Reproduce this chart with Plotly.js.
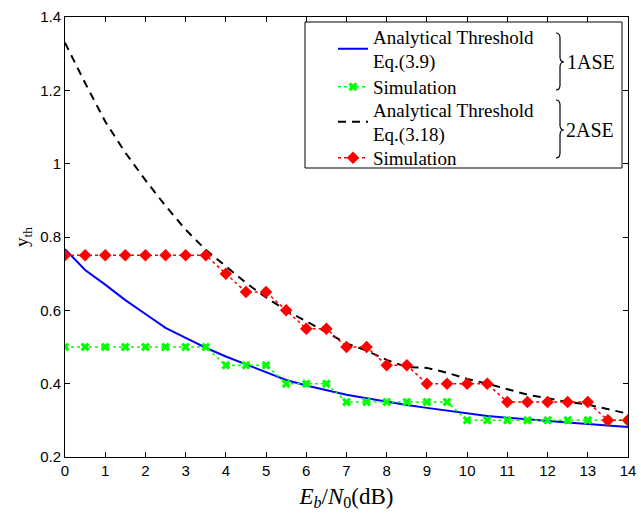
<!DOCTYPE html>
<html>
<head>
<meta charset="utf-8">
<script src="https://cdn.plot.ly/plotly-3.0.1.min.js"></script>
<style>html,body{margin:0;padding:0;background:#fff;}#chart{width:641px;height:517px;}</style>
</head>
<body>
<div id="chart"></div>
<script>
// ---- data ----
const snr = [0,0.5,1,1.5,2,2.5,3,3.5,4,4.5,5,5.5,6,6.5,7,7.5,8,8.5,9,9.5,10,10.5,11,11.5,12,12.5,13,13.5,14];
const analytic1 = [0.767,0.71,0.67,0.628,0.59,0.552,0.525,0.498,0.474,0.452,0.43,0.41,0.395,0.382,0.37,0.36,0.35,0.342,0.334,0.326,0.318,0.312,0.307,0.302,0.298,0.294,0.29,0.286,0.282];
const sim1 = [0.5,0.5,0.5,0.5,0.5,0.5,0.5,0.5,0.45,0.45,0.45,0.4,0.4,0.4,0.35,0.35,0.35,0.35,0.35,0.35,0.3,0.3,0.3,0.3,0.3,0.3,0.3,0.3,0.3];
const analytic2 = [1.33,1.22,1.115,1.03,0.955,0.885,0.82,0.765,0.72,0.675,0.635,0.6,0.57,0.54,0.51,0.49,0.465,0.445,0.443,0.43,0.413,0.4,0.385,0.37,0.36,0.35,0.343,0.33,0.318];
const sim2 = [0.75,0.75,0.75,0.75,0.75,0.75,0.75,0.75,0.7,0.65,0.65,0.6,0.55,0.55,0.5,0.5,0.45,0.45,0.4,0.4,0.4,0.4,0.35,0.35,0.35,0.35,0.35,0.3,0.3];
const names = ['Analytical Threshold<br>Eq.(3.9)','Simulation','Analytical Threshold<br>Eq.(3.18)','Simulation'];
const groupLabels = ['1ASE','2ASE'];
const xTicks = [0,1,2,3,4,5,6,7,8,9,10,11,12,13,14];
const yTicks = [0.2,0.4,0.6,0.8,1,1.2,1.4];

// ---- layout helpers ----
const W = 641, H = 517, L = 65, R = 13, T = 17, B = 60;
const pw = W - L - R, ph = H - T - B;
const px = x => (x - L) / pw;
const py = y => (H - B - y) / ph;
function brace(xl, yt, yb, ymid) {
  const xs = xl + 4, xt = xl + 8, r = 5;
  const p = (x, y) => px(x).toFixed(5) + ',' + py(y).toFixed(5);
  return 'M' + p(xl, yt) + ' Q' + p(xs, yt) + ' ' + p(xs, yt + r) +
    ' L' + p(xs, ymid - r) + ' Q' + p(xs, ymid) + ' ' + p(xt, ymid) +
    ' Q' + p(xs, ymid) + ' ' + p(xs, ymid + r) +
    ' L' + p(xs, yb - r) + ' Q' + p(xs, yb) + ' ' + p(xl, yb);
}

const serif = '"Liberation Serif", "DejaVu Serif", serif';

const traces = [
  {x: snr, y: analytic1, name: names[0], legend: 'legend', mode: 'lines', line: {color: '#0000ff', width: 2}},
  {x: snr, y: sim1, name: names[1], legend: 'legend2', mode: 'lines+markers', line: {color: '#00ff00', width: 1.5, dash: 'dot'},
   marker: {symbol: 'x', size: 8, color: '#00ff00'}},
  {x: snr, y: analytic2, name: names[2], legend: 'legend3', mode: 'lines', line: {color: '#000000', width: 2, dash: '8px,6px'}},
  {x: snr, y: sim2, name: names[3], legend: 'legend4', mode: 'lines+markers', line: {color: '#ff0000', width: 1.5, dash: 'dot'},
   marker: {symbol: 'diamond', size: 8, color: '#ff0000', line: {color: '#ff0000', width: 1.5}}}
];

const axisCommon = {
  showline: true, mirror: 'ticks', linecolor: '#000', linewidth: 1,
  ticks: 'inside', ticklen: 5, tickcolor: '#000', showgrid: false, zeroline: false,
  tickfont: {family: '"Liberation Sans", Arial, sans-serif', size: 15, color: '#000'}
};

function legendAt(yc) {
  return {
    x: px(333), y: py(yc), xanchor: 'left', yanchor: 'middle',
    bgcolor: 'rgba(0,0,0,0)', borderwidth: 0,
    font: {family: serif, size: 19, color: '#000'},
    valign: 'middle', tracegroupgap: 0
  };
}

const layout = {
  width: W, height: H,
  margin: {l: L, r: R, t: T, b: B, pad: 0},
  paper_bgcolor: '#fff', plot_bgcolor: '#fff',
  showlegend: true,
  xaxis: Object.assign({}, axisCommon, {
    range: [0, 14], tickvals: xTicks, ticktext: xTicks.map(String),
    title: {text: '<i>E</i><sub><i>b</i></sub>/<i>N</i><sub>0</sub>(dB)', font: {family: serif, size: 23, color: '#000'}, standoff: 9}
  }),
  yaxis: Object.assign({}, axisCommon, {
    range: [0.2, 1.4], tickvals: yTicks, ticktext: yTicks.map(v => v === 1 ? '1' : v.toFixed(1)),
    title: {text: 'y<sub>th</sub>', font: {family: serif, size: 19, color: '#000'}, standoff: 6}
  }),
  legend: legendAt(49),
  legend2: legendAt(87),
  legend3: legendAt(122),
  legend4: legendAt(158),
  shapes: [
    {type: 'rect', xref: 'paper', yref: 'paper', x0: px(305), x1: px(622), y0: py(168), y1: py(22),
     line: {color: '#000', width: 1}, fillcolor: '#fff', layer: 'above'},
    {type: 'path', xref: 'paper', yref: 'paper', path: brace(556, 33, 90, 62), line: {color: '#000', width: 1.2}},
    {type: 'path', xref: 'paper', yref: 'paper', path: brace(556, 100, 158, 130), line: {color: '#000', width: 1.2}}
  ],
  annotations: [
    {xref: 'paper', yref: 'paper', x: px(565), y: py(62), xanchor: 'left', yanchor: 'middle', showarrow: false,
     text: groupLabels[0], font: {family: serif, size: 20, color: '#000'}},
    {xref: 'paper', yref: 'paper', x: px(564), y: py(130), xanchor: 'left', yanchor: 'middle', showarrow: false,
     text: groupLabels[1], font: {family: serif, size: 20, color: '#000'}}
  ]
};

Plotly.newPlot('chart', traces, layout, {displayModeBar: false, staticPlot: true});
</script>
</body>
</html>
